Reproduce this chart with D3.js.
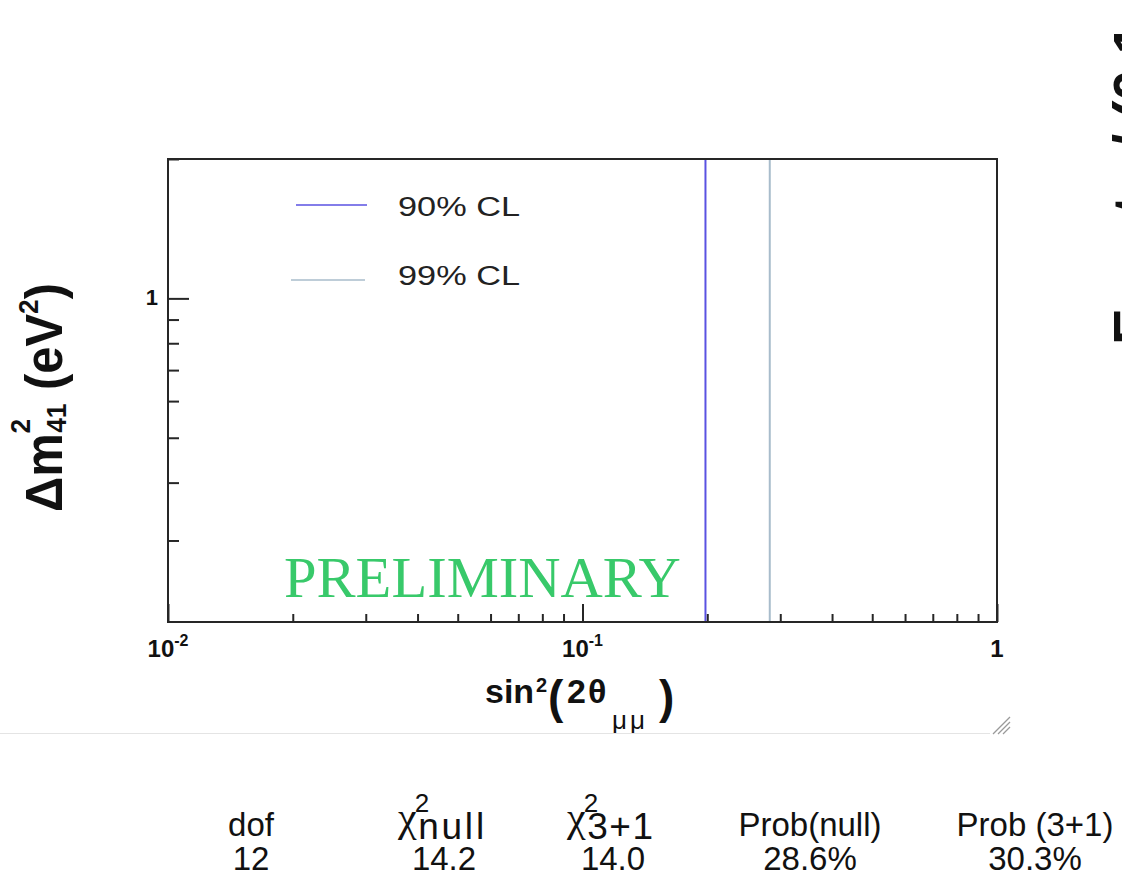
<!DOCTYPE html>
<html>
<head>
<meta charset="utf-8">
<script src="https://cdn.jsdelivr.net/npm/d3@7"></script>
<style>
  body { margin: 0; background: #fff; }
  svg { display: block; font-family: "Liberation Sans", Arial, Helvetica, sans-serif; }
</style>
</head>
<body>
<svg id="chart" width="1122" height="876"></svg>
<script>
// ---- data -------------------------------------------------------------
const xDomain = [0.01, 1];            // sin^2(2θμμ)
const yDomain = [0.2, 2];             // Δm^2_41 (eV^2)
const xMajorTicks = [0.01, 0.1, 1];
const xTickLabels = [["10", "-2"], ["10", "-1"], ["1", ""]];
const xMinorTicks = [0.02, 0.03, 0.04, 0.05, 0.06, 0.07, 0.08, 0.09,
                     0.2, 0.3, 0.4, 0.5, 0.6, 0.7, 0.8, 0.9];
const yMajorTicks = [1];
const yTickLabels = ["1"];
const yMinorTicks = [0.3, 0.4, 0.5, 0.6, 0.7, 0.8, 0.9, 2];
const clLabels = ["90% CL", "99% CL"];
const clSin2 = [0.198, 0.283];        // exclusion limit (vertical contour)
const clColors = ["#5a52e2", "#a8bccb"];
const tableHeaders = ["dof", ["χ", "2", "null"], ["χ", "2", "3+1"], "Prob(null)", "Prob (3+1)"];
const tableValues = ["12", "14.2", "14.0", "28.6%", "30.3%"];

// ---- layout -------------------------------------------------------------
const svg = d3.select("#chart");
const frame = { left: 168, right: 997, top: 159, bottom: 622 };
const serif = "'Liberation Serif', 'Times New Roman', serif";

const x = d3.scaleLog().domain(xDomain).range([frame.left, frame.right]);
const y = d3.scaleLog().domain(yDomain).range([frame.bottom, frame.top]);

// stretch a text element horizontally (about anchorX) to a given width
function fitWidth(sel, width, anchorX, extra = "") {
  const w = sel.node().getBBox().width;
  const k = width / w;
  sel.attr("transform", `${extra} translate(${anchorX},0) scale(${k},1) translate(${-anchorX},0)`);
}

// ---- contour lines ------------------------------------------------------
svg.append("g").selectAll("line")
  .data(clSin2)
  .join("line")
  .attr("x1", d => x(d)).attr("x2", d => x(d))
  .attr("y1", y(yDomain[1])).attr("y2", y(yDomain[0]))
  .attr("stroke", (d, i) => clColors[i])
  .attr("stroke-width", 2);

// ---- frame and ticks ----------------------------------------------------
svg.append("rect")
  .attr("x", frame.left).attr("y", frame.top)
  .attr("width", frame.right - frame.left).attr("height", frame.bottom - frame.top)
  .attr("fill", "none").attr("stroke", "#262626").attr("stroke-width", 2);

function styleAxis(g) {
  g.select(".domain").remove();
  g.selectAll(".tick line").attr("stroke", "#262626").attr("stroke-width", 2);
  g.selectAll(".tick text").remove();
}

svg.append("g").attr("transform", `translate(0,${frame.bottom})`)
  .call(d3.axisBottom(x).tickValues(xMajorTicks).tickSize(-18).tickFormat(""))
  .call(styleAxis);
svg.append("g").attr("transform", `translate(0,${frame.bottom})`)
  .call(d3.axisBottom(x).tickValues(xMinorTicks).tickSize(-8).tickFormat(""))
  .call(styleAxis);
svg.append("g").attr("transform", `translate(${frame.left},0)`)
  .call(d3.axisLeft(y).tickValues(yMajorTicks).tickSize(-21).tickFormat(""))
  .call(styleAxis);
svg.append("g").attr("transform", `translate(${frame.left},0)`)
  .call(d3.axisLeft(y).tickValues(yMinorTicks).tickSize(-11).tickFormat(""))
  .call(styleAxis);

// tick labels
xMajorTicks.forEach((v, i) => {
  const t = svg.append("text")
    .attr("x", x(v)).attr("y", 657)
    .attr("text-anchor", "middle")
    .attr("font-weight", "bold").attr("font-size", 24).attr("fill", "#111");
  t.append("tspan").text(xTickLabels[i][0]);
  if (xTickLabels[i][1]) {
    t.append("tspan").attr("font-size", 16).attr("dy", -11).text(xTickLabels[i][1]);
  }
});
yMajorTicks.forEach((v, i) => {
  svg.append("text")
    .attr("x", 158).attr("y", y(v) + 7)
    .attr("text-anchor", "end")
    .attr("font-weight", "bold").attr("font-size", 22).attr("fill", "#111")
    .text(yTickLabels[i]);
});

// ---- axis titles --------------------------------------------------------
const xt = svg.append("g").attr("font-weight", "bold").attr("fill", "#111");
xt.append("text").attr("x", 485).attr("y", 703).attr("font-size", 34).text("sin");
xt.append("text").attr("x", 536).attr("y", 692).attr("font-size", 20).text("2");
xt.append("text").attr("x", 548).attr("y", 713).attr("font-size", 46).text("(");
xt.append("text").attr("x", 567).attr("y", 703).attr("font-size", 34).text("2");
xt.append("text").attr("x", 588).attr("y", 703).attr("font-size", 34).text("θ");
xt.append("text").attr("x", 612).attr("y", 729).attr("font-size", 26).attr("font-weight", "normal")
  .attr("letter-spacing", 3).text("μμ");
xt.append("text").attr("x", 659).attr("y", 713).attr("font-size", 46).text(")");

const yt = svg.append("text")
  .attr("x", 0).attr("y", 0)
  .attr("text-anchor", "middle")
  .attr("font-weight", "bold").attr("font-size", 52).attr("fill", "#111");
yt.append("tspan").text("Δm");
yt.append("tspan").attr("font-size", 28).attr("dy", -32).text("2");
yt.append("tspan").attr("font-size", 28).attr("dx", -15).attr("dy", 36).text("41");
yt.append("tspan").attr("dy", -4).text(" (eV");
yt.append("tspan").attr("font-size", 28).attr("dy", -24).text("2");
yt.append("tspan").attr("dy", 24).text(")");
fitWidth(yt, 229, 0, "translate(62,397.5) rotate(-90)");

// ---- legend -------------------------------------------------------------
const legendRows = [
  { x1: 296, x2: 367, ly: 205, ty: 216 },
  { x1: 291, x2: 365, ly: 280, ty: 285 }
];
clLabels.forEach((lab, i) => {
  const r = legendRows[i];
  svg.append("line")
    .attr("x1", r.x1).attr("x2", r.x2).attr("y1", r.ly).attr("y2", r.ly)
    .attr("stroke", clColors[i]).attr("stroke-width", 1.6);
  const t = svg.append("text")
    .attr("x", 398).attr("y", r.ty)
    .attr("font-size", 28).attr("fill", "#222")
    .text(lab);
  fitWidth(t, 122, 398);
});

// ---- watermark ----------------------------------------------------------
const prelim = svg.append("text")
  .attr("x", 284).attr("y", 597)
  .style("font-family", serif)
  .attr("font-size", 58).attr("fill", "#38c96a")
  .text("PRELIMINARY");
fitWidth(prelim, 397, 284);

// ---- neighbouring panel edge --------------------------------------------
svg.append("text")
  .attr("transform", "translate(1152,345) rotate(-90)")
  .attr("font-weight", "bold").attr("font-size", 55).attr("fill", "#111")
  .text("Events / (0.1 units)");

// separator and resize grip of the embedded figure
svg.append("line").attr("x1", 0).attr("x2", 990).attr("y1", 733.5).attr("y2", 733.5)
  .attr("stroke", "#e4e4e4").attr("stroke-width", 1);
[[1010, 717, 993, 734], [1010, 722, 998, 734], [1010, 727, 1003, 734]].forEach(s => {
  svg.append("line").attr("x1", s[0]).attr("y1", s[1]).attr("x2", s[2]).attr("y2", s[3])
    .attr("stroke", "#9a9a9a").attr("stroke-width", 1.2);
});

// ---- summary table --------------------------------------------------------
const colCenters = [251, 444, 613, 810, 1035];
const cellFont = 33;
tableHeaders.forEach((h, i) => {
  const cx = colCenters[i];
  if (typeof h === "string") {
    svg.append("text")
      .attr("x", cx).attr("y", 836).attr("text-anchor", "middle")
      .attr("font-size", cellFont).attr("fill", "#111").text(h);
  } else {
    // χ with stacked superscript and subscript, as one text element
    const t = svg.append("text")
      .attr("x", cx - 46).attr("y", 831)
      .attr("font-size", 32).attr("fill", "#111");
    t.append("tspan").style("font-family", serif).attr("font-size", 42).text(h[0]);
    t.append("tspan").attr("font-size", 26).attr("dx", -2).attr("dy", -19).text(h[1]);
    t.append("tspan").attr("font-size", 37).attr("dx", -11).attr("dy", 27)
      .attr("textLength", 66).attr("lengthAdjust", "spacing").text(h[2]);
  }
});
tableValues.forEach((v, i) => {
  svg.append("text")
    .attr("x", colCenters[i]).attr("y", 870).attr("text-anchor", "middle")
    .attr("font-size", cellFont).attr("fill", "#111")
    .text(v);
});
</script>
</body>
</html>
